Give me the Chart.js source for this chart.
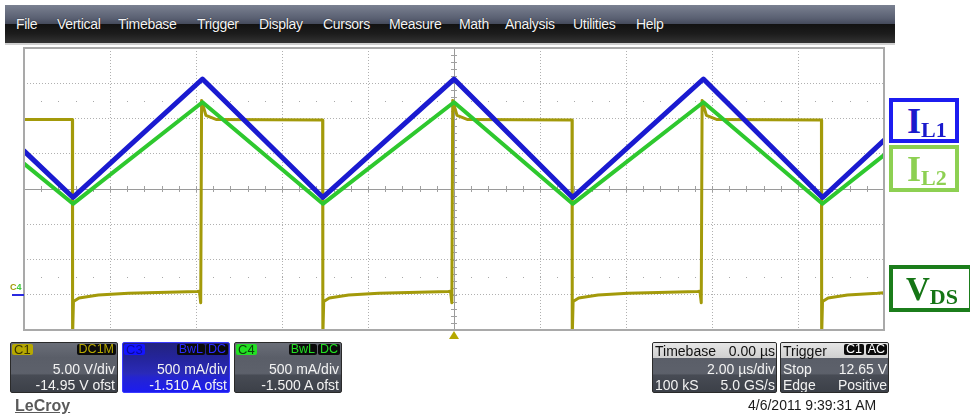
<!DOCTYPE html>
<html>
<head>
<meta charset="utf-8">
<script src="https://cdn.jsdelivr.net/npm/chart.js@4.4.0/dist/chart.umd.min.js"></script>
<style>
html,body{margin:0;padding:0;background:#fff;width:970px;height:416px;overflow:hidden;font-family:"Liberation Sans",Arial,sans-serif;}
#wrap{position:relative;width:970px;height:416px;}
#scope{position:absolute;left:0;top:0;}
.abs{position:absolute;}
#menubar{left:5px;top:5px;width:890px;height:38px;background:linear-gradient(#7a8191 0%,#5a6072 35%,#444a5b 50%,#121212 51%,#1c1c1c 75%,#333 100%);}
#menuline{left:5px;top:43px;width:890px;height:2px;background:#d0d0d0;}
.menu{position:absolute;top:10px;color:#f4f4f4;font-size:14px;line-height:18px;letter-spacing:-0.3px;text-shadow:0 0 1px #000;}
.panel{position:absolute;top:342px;height:51px;border:1px solid #2a2a2a;border-radius:2px;box-sizing:border-box;overflow:hidden;
  background:linear-gradient(#6a6e78 0%,#5a5e68 30%,#5d616b 62%,#474b54 66%,#3c4048 100%);}
.panel.blue{border-color:#3a3aff;background:linear-gradient(#23237e 0%,#24249a 30%,#2a2ab8 62%,#2424d0 70%,#1c1cf0 100%);}
.ptxt{position:absolute;color:#f2f2f2;font-size:14px;line-height:15px;white-space:nowrap;}
.badge{position:absolute;top:1px;height:11px;font-size:12.5px;line-height:11px;padding:0 2px;border-radius:2px;background:#0b0b0b;box-sizing:content-box;}
.lbl{position:absolute;top:1px;height:11px;font-size:13px;line-height:11px;padding:0 2px;border-radius:2px;}
.hdr{position:absolute;left:0;top:0;width:100%;height:15px;background:linear-gradient(#e6e6e6,#cfcfcf);}
.tag{position:absolute;left:889px;width:70px;box-sizing:border-box;background:#fff;font-family:"Liberation Serif","Times New Roman",serif;font-weight:bold;white-space:nowrap;}
.tag .big{font-size:36px;}
.tag sub{font-size:22px;vertical-align:baseline;position:relative;top:4px;}
</style>
</head>
<body>
<div id="wrap">
<canvas id="scope" width="970" height="416"></canvas>

<div id="menubar" class="abs">
  <span class="menu" style="left:11px">File</span>
  <span class="menu" style="left:52px">Vertical</span>
  <span class="menu" style="left:113px">Timebase</span>
  <span class="menu" style="left:192px">Trigger</span>
  <span class="menu" style="left:254px">Display</span>
  <span class="menu" style="left:318px">Cursors</span>
  <span class="menu" style="left:384px">Measure</span>
  <span class="menu" style="left:454px">Math</span>
  <span class="menu" style="left:500px">Analysis</span>
  <span class="menu" style="left:568px">Utilities</span>
  <span class="menu" style="left:631px">Help</span>
</div>
<div id="menuline" class="abs"></div>

<!-- right side trace labels -->
<div class="tag abs" style="top:98px;height:45px;border:4px solid #1c1cf0;color:#1a1acc;padding-left:14px;line-height:38px;"><span class="big">I</span><sub>L1</sub></div>
<div class="tag abs" style="top:145px;height:47px;border:4px solid #8dd052;color:#8dd052;padding-left:14px;line-height:40px;"><span class="big">I</span><sub>L2</sub></div>
<div class="tag abs" style="top:265px;width:84px;height:47px;border:4px solid #1b7d1b;color:#157515;padding-left:13px;line-height:40px;"><span class="big" style="font-size:33px">V</span><sub>DS</sub></div>

<!-- ground marker -->
<div class="abs" style="left:10px;top:283px;font-size:9px;line-height:9px;color:#a39a0a;font-weight:bold;">C<span style="color:#3ccc3c">4</span></div>
<div class="abs" style="left:12px;top:294px;width:12px;height:2px;background:#2a2ae0;"></div>

<!-- trigger marker -->
<div class="abs" style="left:449px;top:331px;width:0;height:0;border-left:5px solid transparent;border-right:5px solid transparent;border-bottom:8px solid #b5a800;"></div>

<!-- channel panels -->
<div class="panel" style="left:10px;width:108px;">
  <span class="lbl" style="left:1px;background:#b6a800;color:#3a3500;">C1</span>
  <span class="badge" style="right:1px;color:#b6a800;">DC1M</span>
  <span class="ptxt" style="right:2px;top:19px;">5.00 V/div</span>
  <span class="ptxt" style="right:2px;top:35px;">-14.95 V ofst</span>
</div>
<div class="panel blue" style="left:122px;width:108px;">
  <span class="lbl" style="left:1px;background:#1414ff;color:#0a0a9a;">C3</span>
  <span class="badge" style="right:24px;color:#2a2aff;">BwL</span>
  <span class="badge" style="right:1px;color:#2a2aff;">DC</span>
  <span class="ptxt" style="right:2px;top:19px;">500 mA/div</span>
  <span class="ptxt" style="right:2px;top:35px;">-1.510 A ofst</span>
</div>
<div class="panel" style="left:234px;width:108px;">
  <span class="lbl" style="left:1px;background:#22e022;color:#0c400c;">C4</span>
  <span class="badge" style="right:24px;color:#22e022;">BwL</span>
  <span class="badge" style="right:1px;color:#22e022;">DC</span>
  <span class="ptxt" style="right:2px;top:19px;">500 mA/div</span>
  <span class="ptxt" style="right:2px;top:35px;">-1.500 A ofst</span>
</div>

<div class="panel" style="left:652px;width:125px;">
  <div class="hdr"></div>
  <span class="ptxt" style="left:2px;top:1px;color:#111;">Timebase</span>
  <span class="ptxt" style="right:1px;top:1px;color:#111;">0.00 µs</span>
  <span class="ptxt" style="right:1px;top:19px;">2.00 µs/div</span>
  <span class="ptxt" style="left:2px;top:35px;">100 kS</span>
  <span class="ptxt" style="right:1px;top:35px;">5.0 GS/s</span>
</div>
<div class="panel" style="left:780px;width:109px;">
  <div class="hdr"></div>
  <span class="ptxt" style="left:2px;top:1px;color:#111;">Trigger</span>
  <span class="badge" style="right:24px;color:#fff;">C1</span>
  <span class="badge" style="right:1px;color:#fff;">AC</span>
  <span class="ptxt" style="left:2px;top:19px;">Stop</span>
  <span class="ptxt" style="right:1px;top:19px;">12.65 V</span>
  <span class="ptxt" style="left:2px;top:35px;">Edge</span>
  <span class="ptxt" style="right:1px;top:35px;">Positive</span>
</div>

<div class="abs" style="left:748px;top:398px;font-size:14px;line-height:15px;color:#1a1a1a;">4/6/2011 9:39:31 AM</div>
<div class="abs" style="left:15px;top:397px;font-size:16px;line-height:17px;font-weight:bold;color:#5a5a5a;text-decoration:underline;">LeCroy</div>
</div>

<script>
// ---- timebase: 2 us/div, 10 divisions, trigger at 0 ----
const timeDivs = 10;
const timePerDiv = 2.0;          // us/div
const vertDivs = 8;

// ---- channel settings (scale per div, offset) ----
const c1Scale = 5.0,  c1Offset = -14.95;   // V
const c3Scale = 0.5,  c3Offset = -1.510;   // A
const c4Scale = 0.5,  c4Offset = -1.500;   // A

// ---- inductor currents: vertex times (us) and values (A) ----
const timeIL = [-10, -8.86, -5.85, -3.05, 0.0, 2.76, 5.80, 8.57, 10];
const iL1    = [2.05, 1.39, 3.07, 1.39, 3.07, 1.39, 3.07, 1.39, 2.20];
const iL2    = [1.86, 1.29, 2.73, 1.29, 2.73, 1.29, 2.73, 1.29, 1.98];

// ---- drain-source voltage: vertex times (us) and values (V) ----
const vdsTime = [
  -10, -8.875, -8.87, -8.85, -8.72, -8.27, -7.57, -5.97, -5.92, -5.89, -5.87, -5.77, -5.52,
  -3.055, -3.05, -3.03, -2.90, -2.45, -1.75, -0.13, -0.08, -0.05, -0.03, 0.07, 0.32,
  2.745, 2.75, 2.77, 2.90, 3.35, 4.05, 5.67, 5.72, 5.75, 5.77, 5.87, 6.12,
  8.545, 8.55, 8.57, 8.70, 9.15, 9.85, 10];
const vdsVolt = [
  24.8, 24.8, -6, -1.0, -0.5, -0.1, 0.15, 0.4, 0.45, -1.2, 27.5, 25.4, 24.8,
  24.75, -6, -1.0, -0.5, -0.1, 0.15, 0.4, 0.45, -1.2, 27.5, 25.4, 24.8,
  24.75, -6, -1.0, -0.5, -0.1, 0.15, 0.4, 0.45, -1.2, 27.5, 25.4, 24.8,
  24.75, -6, -1.0, -0.5, -0.1, 0.15, 0.25];

const pts = (t, v) => t.map((x, i) => ({x: x, y: v[i]}));
const half = vertDivs / 2;
const chanAxis = (scale, offset) => ({
  type: 'linear', display: false,
  min: -offset - half * scale, max: -offset + half * scale
});

const scopeDecor = {
  id: 'scopeDecor',
  beforeDatasetsDraw(chart) {
    const {ctx, chartArea: a, scales} = chart;
    const xs = scales.x, ys = scales.yg;
    const cx = xs.getPixelForValue(0), cy = ys.getPixelForValue(0);
    ctx.save();
    ctx.strokeStyle = '#9a9a9a';
    ctx.lineWidth = 1;
    ctx.beginPath();
    ctx.moveTo(a.left, Math.round(cy) + 0.5); ctx.lineTo(a.right, Math.round(cy) + 0.5);
    ctx.moveTo(Math.round(cx) + 0.5, a.top); ctx.lineTo(Math.round(cx) + 0.5, a.bottom);
    ctx.stroke();
    // minor ticks on centre cross
    ctx.strokeStyle = '#a0a0a0';
    ctx.beginPath();
    for (let k = -timeDivs * 5 / 2; k <= timeDivs * 5 / 2; k++) {
      const px = Math.round(xs.getPixelForValue(k * timePerDiv / 5)) + 0.5;
      ctx.moveTo(px, cy - 3); ctx.lineTo(px, cy + 3);
    }
    for (let k = -half * 5; k <= half * 5; k++) {
      const py = Math.round(ys.getPixelForValue(k / 5)) + 0.5;
      ctx.moveTo(cx - 3, py); ctx.lineTo(cx + 3, py);
    }
    ctx.stroke();
    // dotted minor rows at +-2.5 div
    ctx.fillStyle = '#a8a8a8';
    [2.5, -2.5].forEach(d => {
      const py = Math.round(ys.getPixelForValue(d));
      for (let k = -timeDivs * 5 / 2; k <= timeDivs * 5 / 2; k++) {
        const px = Math.round(xs.getPixelForValue(k * timePerDiv / 5));
        ctx.fillRect(px, py, 1, 1);
      }
    });
    ctx.restore();
  },
  afterDatasetsDraw(chart) {
    const {ctx, chartArea: a} = chart;
    ctx.save();
    ctx.strokeStyle = '#a9a9a9';
    ctx.lineWidth = 2;
    ctx.strokeRect(a.left, a.top, a.right - a.left, a.bottom - a.top);
    ctx.restore();
  }
};

new Chart(document.getElementById('scope'), {
  type: 'line',
  data: {
    datasets: [
      {label: 'IL2', data: pts(timeIL, iL2), yAxisID: 'y4', borderColor: '#2ec82e', borderWidth: 4},
      {label: 'IL1', data: pts(timeIL, iL1), yAxisID: 'y3', borderColor: '#1a1ad0', borderWidth: 5},
      {label: 'VDS', data: pts(vdsTime, vdsVolt), yAxisID: 'y1', borderColor: '#a39a0a', borderWidth: 3}
    ]
  },
  options: {
    responsive: false,
    animation: false,
    devicePixelRatio: 1,
    layout: {padding: {left: 24, right: 86, top: 48, bottom: 86}},
    elements: {point: {radius: 0}, line: {tension: 0, borderJoinStyle: 'round', borderCapStyle: 'round'}},
    plugins: {legend: {display: false}, tooltip: {enabled: false}},
    scales: {
      x: {
        type: 'linear',
        min: -timeDivs / 2 * timePerDiv, max: timeDivs / 2 * timePerDiv,
        ticks: {display: false, stepSize: timePerDiv},
        grid: {color: '#b0b0b0', drawTicks: false, lineWidth: 1},
        border: {display: false, dash: [1, 2]},
        afterFit: s => { s.height = 0; }
      },
      yg: {
        type: 'linear', position: 'left',
        min: -half, max: half,
        ticks: {display: false, stepSize: 1},
        grid: {color: '#b0b0b0', drawTicks: false, lineWidth: 1},
        border: {display: false, dash: [1, 2]},
        afterFit: s => { s.width = 0; }
      },
      y1: chanAxis(c1Scale, c1Offset),
      y3: chanAxis(c3Scale, c3Offset),
      y4: chanAxis(c4Scale, c4Offset)
    }
  },
  plugins: [scopeDecor]
});
</script>
</body>
</html>
